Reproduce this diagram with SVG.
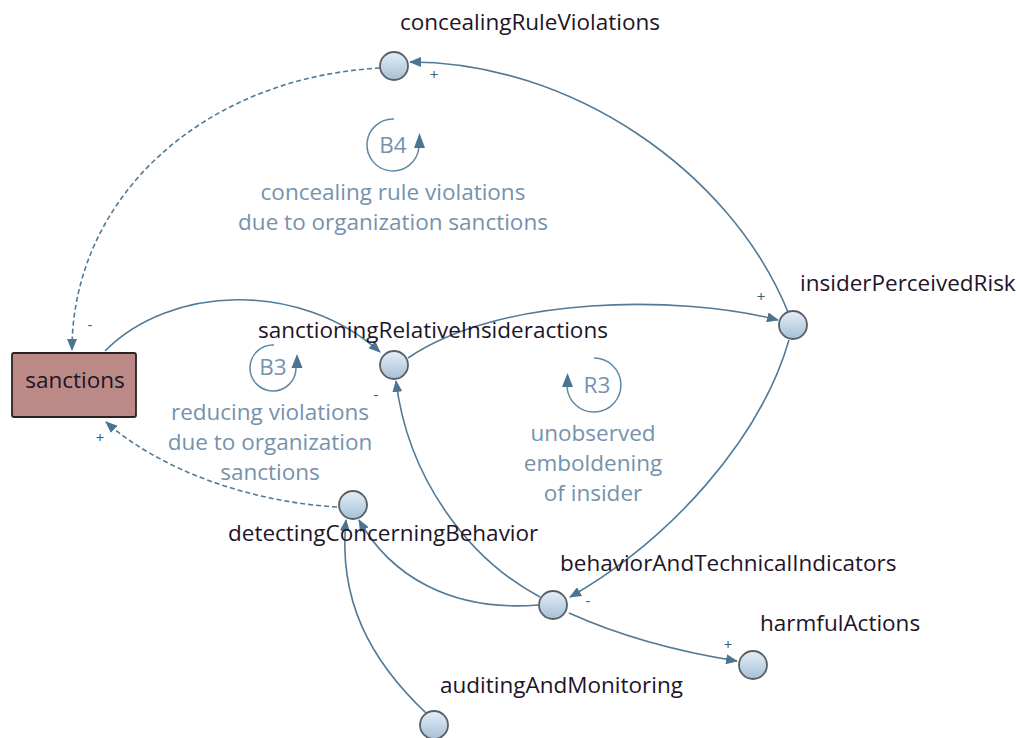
<svg xmlns="http://www.w3.org/2000/svg" width="1016" height="738" viewBox="0 0 1016 738">
  <style>
    .link { fill: none; stroke: #527a96; stroke-width: 1.6; }
    .dash { stroke-dasharray: 5 3; }
    .node { fill: url(#nodeFill); stroke: #5a5f66; stroke-width: 1.8; }
    .name { font-family: "Open Sans", "Noto Sans", sans-serif; font-size: 22.5px; fill: #1e1428; }
    .loop { font-family: "Open Sans", "Noto Sans", sans-serif; font-size: 22.5px; fill: #7592ad; text-anchor: middle; }
    .sign { font-family: "Open Sans", "Noto Sans", sans-serif; font-size: 15px; fill: #3c5a72; text-anchor: middle; }
    .ring { fill: none; stroke: #5f88a6; stroke-width: 1.5; }
    .tip { fill: #4b7490; }
  </style>
  <defs>
    <linearGradient id="nodeFill" x1="0" y1="0" x2="0" y2="1">
      <stop offset="0" stop-color="#e4eef7"/>
      <stop offset="1" stop-color="#a6c0d6"/>
    </linearGradient>
    <marker id="arrow" viewBox="0 0 12 10" refX="11" refY="5" markerWidth="12" markerHeight="10" markerUnits="userSpaceOnUse" orient="auto">
      <path d="M0,0 L12,5 L0,10 Z" fill="#4b7490"/>
    </marker>
  </defs>

  <rect width="1016" height="738" fill="#ffffff"/>

  <!-- causal links -->
  <g id="connectors">
    <path class="link" d="M788,312 C730,170 570,62 410,62" marker-end="url(#arrow)"/>
    <path class="link dash" d="M380,68 C200,78 72,200 72,350" marker-end="url(#arrow)"/>
    <path class="link" d="M105,351 C170,285 300,280 380,352" marker-end="url(#arrow)"/>
    <path class="link" d="M408,358 C500,295 680,295 778,320" marker-end="url(#arrow)"/>
    <path class="link" d="M789,340 C760,440 670,540 570,597" marker-end="url(#arrow)"/>
    <path class="link" d="M540,597 C470,560 408,480 396,381" marker-end="url(#arrow)"/>
    <path class="link" d="M538,605 C450,612 390,575 359,520" marker-end="url(#arrow)"/>
    <path class="link" d="M569,613 C620,636 680,652 737,661" marker-end="url(#arrow)"/>
    <path class="link" d="M426,713 C370,660 338,600 346,520" marker-end="url(#arrow)"/>
    <path class="link dash" d="M337,507 C250,502 160,470 106,422" marker-end="url(#arrow)"/>

    <text class="sign" x="434" y="80">+</text>
    <text class="sign" x="90" y="330">-</text>
    <text class="sign" x="761" y="302">+</text>
    <text class="sign" x="588" y="606">-</text>
    <text class="sign" x="376" y="400">-</text>
    <text class="sign" x="728" y="650">+</text>
    <text class="sign" x="100" y="443">+</text>
  </g>

  <!-- loop markers -->
  <g id="loop-B4">
    <path class="ring" d="M394,119 A26,26 0 1 0 418.8,148"/>
    <path class="tip" d="M419.5,133 L425,148 L414,148 Z"/>
    <text class="loop" x="393" y="153">B4</text>
    <text class="loop" x="393" y="200">concealing rule violations</text>
    <text class="loop" x="393" y="230">due to organization sanctions</text>
  </g>
  <g id="loop-B3">
    <path class="ring" d="M274,345 A23,23 0 1 0 296,368"/>
    <path class="tip" d="M297,354 L302.5,368 L291.5,368 Z"/>
    <text class="loop" x="273" y="375">B3</text>
    <text class="loop" x="270" y="420">reducing violations</text>
    <text class="loop" x="270" y="450">due to organization</text>
    <text class="loop" x="270" y="480">sanctions</text>
  </g>
  <g id="loop-R3">
    <path class="ring" d="M594,358 A27,27 0 1 1 567,387"/>
    <path class="tip" d="M567.5,373 L573,387 L562,387 Z"/>
    <text class="loop" x="597" y="393">R3</text>
    <text class="loop" x="593" y="441">unobserved</text>
    <text class="loop" x="593" y="471">emboldening</text>
    <text class="loop" x="593" y="501">of insider</text>
  </g>

  <!-- variables -->
  <g id="sanctions">
    <rect x="12" y="353" width="124" height="64" rx="2" fill="#bb8a86" stroke="#2b2226" stroke-width="1.8"/>
    <text class="name" x="75" y="388" text-anchor="middle">sanctions</text>
  </g>
  <g id="concealingRuleViolations">
    <circle class="node" cx="394" cy="66" r="14"/>
    <text class="name" x="400" y="30">concealingRuleViolations</text>
  </g>
  <g id="insiderPerceivedRisk">
    <circle class="node" cx="793" cy="325" r="14"/>
    <text class="name" x="800" y="291">insiderPerceivedRisk</text>
  </g>
  <g id="sanctioningRelativeInsideractions">
    <circle class="node" cx="394" cy="365" r="14"/>
    <text class="name" x="258" y="338">sanctioningRelativeInsideractions</text>
  </g>
  <g id="detectingConcerningBehavior">
    <circle class="node" cx="353" cy="505" r="14"/>
    <text class="name" x="228" y="541">detectingConcerningBehavior</text>
  </g>
  <g id="behaviorAndTechnicalIndicators">
    <circle class="node" cx="553" cy="605" r="14"/>
    <text class="name" x="560" y="571">behaviorAndTechnicalIndicators</text>
  </g>
  <g id="harmfulActions">
    <circle class="node" cx="753" cy="665" r="14"/>
    <text class="name" x="760" y="631">harmfulActions</text>
  </g>
  <g id="auditingAndMonitoring">
    <circle class="node" cx="434" cy="725" r="14"/>
    <text class="name" x="440" y="693">auditingAndMonitoring</text>
  </g>
</svg>
